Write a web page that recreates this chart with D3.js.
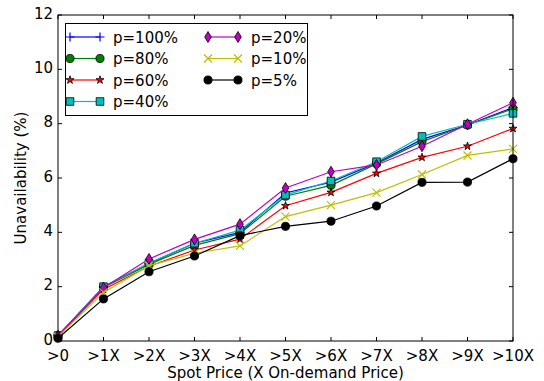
<!DOCTYPE html>
<html>
<head>
<meta charset="utf-8">
<script src="https://cdn.jsdelivr.net/npm/d3@7"></script>
<style>
  html, body { margin: 0; padding: 0; background: #fff; }
  svg { display: block; font-family: "DejaVu Sans", sans-serif; }
</style>
</head>
<body>
<svg id="chart" width="544" height="381"></svg>
<script>
// Spot price thresholds (multiples of on-demand price)
const categories = [">0", ">1X", ">2X", ">3X", ">4X", ">5X", ">6X", ">7X", ">8X", ">9X", ">10X"];
const yTicks = [0, 2, 4, 6, 8, 10, 12];

// Unavailability (%) for each bid probability
const p100 = [0.2, 2.0, 2.85, 3.6, 4.0, 5.45, 5.85, 6.55, 7.42, 7.95, 8.6];
const p80  = [0.2, 1.97, 2.82, 3.52, 3.95, 5.33, 5.73, 6.52, 7.34, 7.95, 8.55];
const p60  = [0.18, 1.9, 2.75, 3.35, 3.75, 4.98, 5.47, 6.17, 6.76, 7.17, 7.82];
const p40  = [0.2, 2.0, 2.87, 3.6, 4.08, 5.37, 5.89, 6.6, 7.53, 7.98, 8.38];
const p20  = [0.2, 1.96, 3.02, 3.74, 4.3, 5.63, 6.23, 6.48, 7.17, 7.98, 8.77];
const p10  = [0.15, 1.79, 2.77, 3.23, 3.5, 4.58, 5.0, 5.46, 6.13, 6.83, 7.07];
const p5   = [0.1, 1.55, 2.55, 3.13, 3.88, 4.22, 4.41, 4.97, 5.84, 5.85, 6.71];

const seriesNames = ["p=100%", "p=80%", "p=60%", "p=40%", "p=20%", "p=10%", "p=5%"];
const seriesValues = [p100, p80, p60, p40, p20, p10, p5];
const seriesColors = ["#0000ff", "#008000", "#ff0000", "#00bfbf", "#bf00bf", "#bfbf00", "#000000"];
const seriesMarkers = ["plus", "circle", "star", "square", "thindiamond", "x", "circle"];

const margin = { left: 58, right: 31, top: 15, bottom: 40 };
const W = 544, H = 381;
const svg = d3.select("#chart");

const x = d3.scalePoint().domain(categories).range([margin.left, W - margin.right]);
const y = d3.scaleLinear().domain([0, 12]).range([H - margin.bottom, margin.top]);

const x0 = margin.left, x1 = W - margin.right, y0 = H - margin.bottom, y1 = margin.top;

// Marker shapes
function markerPath(kind) {
  switch (kind) {
    case "circle": return d3.symbol(d3.symbolCircle, 52)();
    case "square": return d3.symbol(d3.symbolSquare, 58)();
    case "star": return d3.symbol(d3.symbolStar, 20)();
    case "thindiamond": return "M0,-5.5L3.3,0L0,5.5L-3.3,0Z";
    case "plus": return "M-4.5,0H4.5M0,-4.5V4.5";
    case "x": return "M-4,-4L4,4M-4,4L4,-4";
  }
}
const strokeOnly = k => k === "plus" || k === "x";

const line = d3.line().x((d, i) => x(categories[i])).y(d => y(d));

// Series
seriesValues.forEach((vals, si) => {
  const g = svg.append("g").attr("class", "series");
  g.append("path")
    .attr("d", line(vals))
    .attr("fill", "none")
    .attr("stroke", seriesColors[si])
    .attr("stroke-width", 1.2);
  const kind = seriesMarkers[si];
  g.selectAll("path.mk").data(vals).join("path")
    .attr("class", "mk")
    .attr("transform", (d, i) => `translate(${x(categories[i])},${y(d)})`)
    .attr("d", markerPath(kind))
    .attr("fill", strokeOnly(kind) ? "none" : seriesColors[si])
    .attr("stroke", strokeOnly(kind) ? seriesColors[si] : "#000")
    .attr("stroke-width", strokeOnly(kind) ? 1.2 : 0.8);
});

// Axes frame with inward ticks on all four sides
const tickLen = 4;
const axG = svg.append("g").attr("stroke", "#000").attr("stroke-width", 1);
categories.forEach(c => {
  axG.append("line").attr("x1", x(c)).attr("x2", x(c)).attr("y1", y0).attr("y2", y0 - tickLen);
  axG.append("line").attr("x1", x(c)).attr("x2", x(c)).attr("y1", y1).attr("y2", y1 + tickLen);
});
yTicks.forEach(t => {
  axG.append("line").attr("x1", x0).attr("x2", x0 + tickLen).attr("y1", y(t)).attr("y2", y(t));
  axG.append("line").attr("x1", x1).attr("x2", x1 - tickLen).attr("y1", y(t)).attr("y2", y(t));
});
svg.append("rect")
  .attr("x", x0).attr("y", y1).attr("width", x1 - x0).attr("height", y0 - y1)
  .attr("fill", "none").attr("stroke", "#000").attr("stroke-width", 1);

// Tick labels
const fs = 15;
svg.append("g").selectAll("text").data(categories).join("text")
  .attr("x", d => x(d)).attr("y", y0 + 20)
  .attr("text-anchor", "middle").attr("font-size", fs).attr("fill", "#000")
  .text(d => d);
svg.append("g").selectAll("text").data(yTicks).join("text")
  .attr("x", x0 - 5).attr("y", d => y(d) + 3.5)
  .attr("text-anchor", "end").attr("font-size", fs).attr("fill", "#000")
  .text(d => d);

// Axis titles
svg.append("text")
  .attr("x", (x0 + x1) / 2).attr("y", H - 3)
  .attr("text-anchor", "middle").attr("font-size", fs).attr("fill", "#000")
  .text("Spot Price (X On-demand Price)");
svg.append("text")
  .attr("transform", `translate(26,${(y0 + y1) / 2}) rotate(-90)`)
  .attr("text-anchor", "middle").attr("font-size", fs).attr("fill", "#000")
  .text("Unavailability (%)");

// Legend (two columns)
const lfs = 15;
const legend = svg.append("g");
legend.append("rect")
  .attr("x", 65.5).attr("y", 23.5).attr("width", 242).attr("height", 92)
  .attr("fill", "#fff").attr("stroke", "#000").attr("stroke-width", 1);
const rowY = [37, 58.5, 80, 101.5];
seriesNames.forEach((name, si) => {
  const col = si < 4 ? 0 : 1;
  const row = si < 4 ? si : si - 4;
  const hx = col === 0 ? 70 : 208;
  const ly = rowY[row];
  const kind = seriesMarkers[si];
  legend.append("line")
    .attr("x1", hx).attr("x2", hx + 30).attr("y1", ly).attr("y2", ly)
    .attr("stroke", seriesColors[si]).attr("stroke-width", 1.2);
  [hx, hx + 30].forEach(mx => {
    legend.append("path")
      .attr("transform", `translate(${mx},${ly})`)
      .attr("d", markerPath(kind))
      .attr("fill", strokeOnly(kind) ? "none" : seriesColors[si])
      .attr("stroke", strokeOnly(kind) ? seriesColors[si] : "#000")
      .attr("stroke-width", strokeOnly(kind) ? 1.2 : 0.8);
  });
  legend.append("text")
    .attr("x", hx + 43).attr("y", ly + 5.5)
    .attr("font-size", lfs).attr("fill", "#000")
    .text(name);
});
</script>
</body>
</html>
